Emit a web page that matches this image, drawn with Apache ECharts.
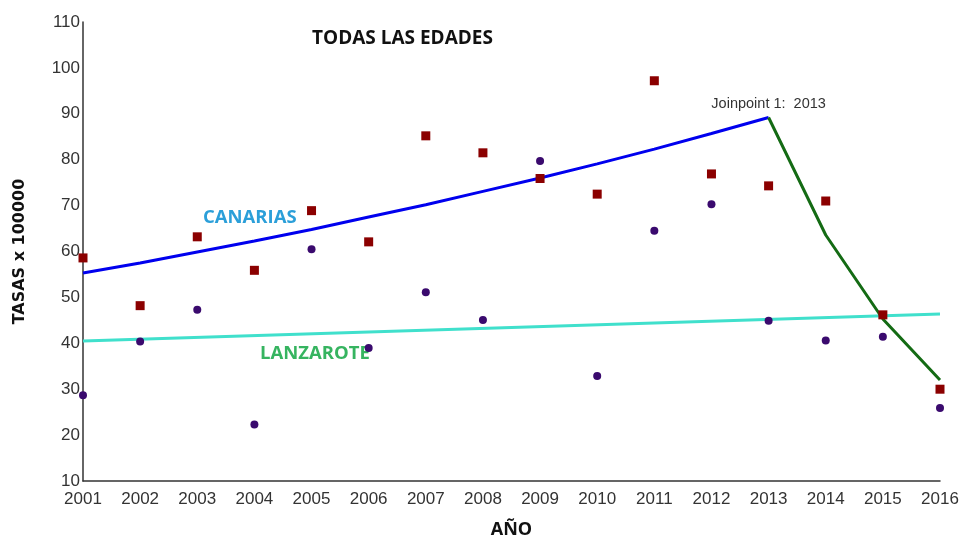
<!DOCTYPE html>
<html>
<head>
<meta charset="utf-8">
<title>Todas las edades</title>
<script src="https://cdn.jsdelivr.net/npm/echarts@6/dist/echarts.min.js"></script>
<style>
  html, body { margin: 0; padding: 0; background: #fff; }
  #chart { width: 960px; height: 535px; }
</style>
</head>
<body>
<div id="chart"></div>
<script>
// años
const years = [2001, 2002, 2003, 2004, 2005, 2006, 2007, 2008, 2009, 2010, 2011, 2012, 2013, 2014, 2015, 2016];
// tasas observadas
const canariasObs = [58.6, 48.2, 63.2, 55.9, 68.9, 62.1, 85.2, 81.5, 75.9, 72.5, 97.2, 76.9, 74.3, 71.0, 46.2, 30.0];
const lanzaroteObs = [28.7, 40.4, 47.3, 22.3, 60.5, 39.0, 51.1, 45.1, 79.7, 32.9, 64.5, 70.3, 44.9, 40.6, 41.4, 25.9];
// modelo joinpoint canarias: tramo 1 (2001-2013) y tramo 2 (2013-2016)
const canariasFitYears1 = [2001, 2002, 2003, 2004, 2005, 2006, 2007, 2008, 2009, 2010, 2011, 2012, 2013];
const canariasFit1 = [55.3, 57.5, 59.9, 62.3, 64.8, 67.5, 70.2, 73.1, 76.0, 79.1, 82.3, 85.7, 89.2];
const canariasFitYears2 = [2013, 2014, 2015, 2016];
const canariasFit2 = [89.2, 63.6, 45.3, 32.0];
// modelo lanzarote (sin joinpoint)
const lanzaroteFitYears = [2001, 2016];
const lanzaroteFit = [40.5, 46.4];
// joinpoint
const joinYear = 2013;
const joinValue = 89.2;

const pairs = (xs, ys) => xs.map((x, i) => [x, ys[i]]);
const txt = 'Liberation Sans, Arial, sans-serif';

const chart = echarts.init(document.getElementById('chart'));

chart.setOption({
  animation: false,
  backgroundColor: '#fff',
  grid: { left: 83, right: 20, top: 22, bottom: 54, outerBoundsMode: 'none' },
  xAxis: {
    type: 'value',
    min: 2001,
    max: 2016,
    interval: 1,
    name: 'AÑO',
    nameLocation: 'middle',
    nameGap: 40,
    nameTextStyle: { fontWeight: 'bold', fontSize: 18, color: '#111', fontFamily: 'Open Sans, sans-serif' },
    axisLine: { lineStyle: { color: '#333', width: 1.5 } },
    axisTick: { show: false },
    splitLine: { show: false },
    axisLabel: {
      formatter: v => String(v),
      color: '#333',
      fontSize: 17,
      margin: 10,
      fontFamily: txt
    }
  },
  yAxis: {
    type: 'value',
    min: 10,
    max: 110,
    interval: 10,
    name: 'TASAS x 100000',
    nameLocation: 'middle',
    nameGap: 55,
    nameTextStyle: { fontWeight: 'bold', fontSize: 16, color: '#111', fontFamily: 'DejaVu Sans, sans-serif' },
    axisLine: { show: true, lineStyle: { color: '#333', width: 1.5 } },
    axisTick: { show: false },
    splitLine: { show: false },
    axisLabel: {
      color: '#333',
      fontSize: 17,
      margin: 3,
      fontFamily: txt
    }
  },
  graphic: [
    {
      type: 'text', left: 312, top: 29,
      style: { text: 'TODAS LAS EDADES', fontSize: 19, fontWeight: 'bold', fill: '#111', fontFamily: 'Open Sans, sans-serif' }
    },
    {
      type: 'text', left: 203, top: 208,
      style: { text: 'CANARIAS', fontSize: 18.5, fontWeight: 'bold', fill: '#2b9fd9', fontFamily: 'Open Sans, sans-serif' }
    },
    {
      type: 'text', left: 260, top: 344,
      style: { text: 'LANZAROTE', fontSize: 18.5, fontWeight: 'bold', fill: '#36b460', fontFamily: 'Open Sans, sans-serif' }
    }
  ],
  series: [
    {
      name: 'Lanzarote modelo',
      type: 'line',
      data: pairs(lanzaroteFitYears, lanzaroteFit),
      showSymbol: false,
      lineStyle: { color: '#40e0cc', width: 3 },
      z: 2
    },
    {
      name: 'Canarias modelo 1',
      type: 'line',
      data: pairs(canariasFitYears1, canariasFit1),
      showSymbol: false,
      lineStyle: { color: '#0000ee', width: 3 },
      markPoint: {
        symbol: 'circle',
        symbolSize: 0,
        data: [{ coord: [joinYear, joinValue] }],
        label: {
          show: true,
          position: 'top',
          distance: 6,
          formatter: 'Joinpoint 1:  ' + joinYear,
          color: '#333',
          fontSize: 14.5,
          fontFamily: txt
        }
      },
      z: 2
    },
    {
      name: 'Canarias modelo 2',
      type: 'line',
      data: pairs(canariasFitYears2, canariasFit2),
      showSymbol: false,
      lineStyle: { color: '#146b14', width: 3 },
      z: 3
    },
    {
      name: 'Lanzarote',
      type: 'scatter',
      data: pairs(years, lanzaroteObs),
      symbol: 'circle',
      symbolSize: 8,
      itemStyle: { color: '#3a0a6e', opacity: 1 },
      z: 4
    },
    {
      name: 'Canarias',
      type: 'scatter',
      data: pairs(years, canariasObs),
      symbol: 'rect',
      symbolSize: 9,
      itemStyle: { color: '#8b0000', opacity: 1 },
      z: 4
    }
  ]
});
</script>
</body>
</html>
